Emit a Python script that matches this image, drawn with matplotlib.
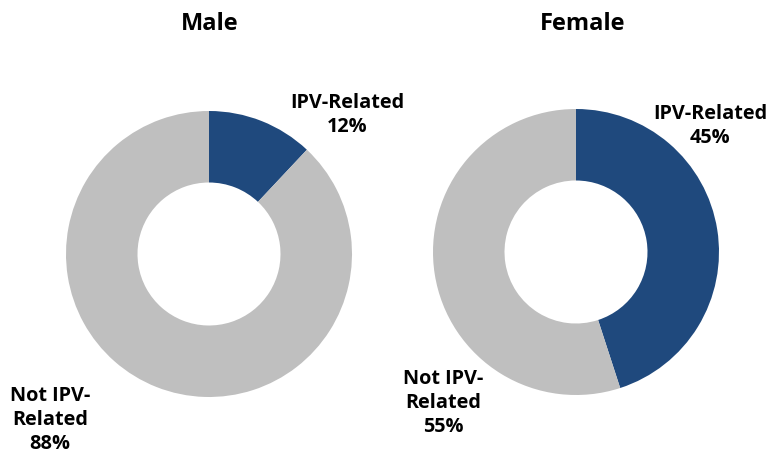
import matplotlib
matplotlib.use("Agg")
import matplotlib.pyplot as plt

panels = ["Male", "Female"]
ipv_related = [12, 45]
not_ipv_related = [88, 55]
slice_names = ["IPV-Related", "Not IPV-\nRelated"]
colors = ["#1F497D", "#BFBFBF"]

W, H = 783, 460
fig = plt.figure(figsize=(W / 100, H / 100), dpi=100)
plt.rcParams['font.family'] = ['Open Sans', 'DejaVu Sans']

centers = [(209, 255), (576, 253)]
R = 143
title_pos = [(210, 24), (583, 24)]
lab_pos = [[(347, 115), (50, 420)], [(710, 126), (443, 403)]]

for i, name in enumerate(panels):
    cx, cy = centers[i]
    ax = fig.add_axes([(cx - R) / W, 1 - (cy + R) / H, 2 * R / W, 2 * R / H])
    vals = [ipv_related[i], not_ipv_related[i]]
    ax.pie(vals, colors=colors, startangle=90, counterclock=False,
           radius=1.0, wedgeprops=dict(width=0.5, linewidth=0))
    ax.set_xlim(-1, 1)
    ax.set_ylim(-1, 1)
    ax.set_aspect('equal')
    ax.axis('off')
    tx, ty = title_pos[i]
    fig.text(tx / W, 1 - ty / H, name, ha='center', va='center',
             fontsize=17, fontweight='bold', color='black')
    for j in range(2):
        lx, ly = lab_pos[i][j]
        fig.text(lx / W, 1 - ly / H, f"{slice_names[j]}\n{vals[j]}%",
                 ha='center', va='center', fontsize=14.3, fontweight='bold',
                 color='black', linespacing=1.25)

fig.savefig("out.png", dpi=100)
